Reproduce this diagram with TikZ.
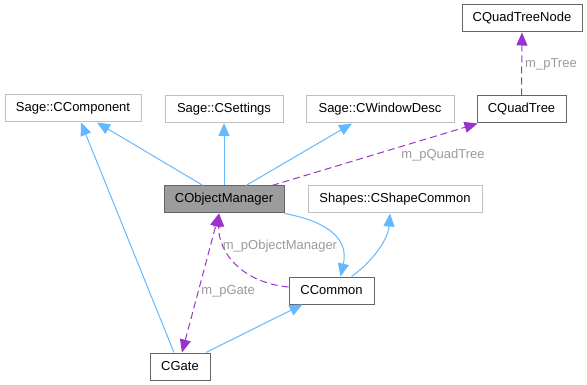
\documentclass[tikz,border=0pt]{standalone}
\usepackage{fontspec}
\setmainfont{Liberation Sans}
\usetikzlibrary{arrows.meta, positioning}

\definecolor{inhblue}{HTML}{63B8FF}
\definecolor{usepurple}{HTML}{9A32CD}
\definecolor{lblgrey}{HTML}{9A9A9A}
\definecolor{boxgrey}{HTML}{BFBFBF}
\definecolor{boxdark}{HTML}{666666}

\begin{document}
\begin{tikzpicture}[x=1pt, y=-1pt, font=\fontsize{13}{15}\selectfont,
    cls/.style={draw=boxdark, fill=white, line width=1pt, minimum height=27pt, inner sep=0pt},
    extcls/.style={cls, draw=boxgrey},
    tip/.style={-{Triangle[length=13pt, width=11pt]}},
    inherit/.style={draw=inhblue, line width=1pt, tip},
    uses/.style={draw=usepurple, line width=1pt, dash pattern=on 7pt off 4pt, tip},
    lbl/.style={text=lblgrey, inner sep=1pt}]
  \useasboundingbox (0,0) rectangle (587,385);

  % classes, placed at their centres
  \node[extcls, minimum width=136pt] at (73, 108.5) (comp) {Sage::CComponent};
  \node[extcls, minimum width=118pt] at (224, 109) (settings) {Sage::CSettings};
  \node[extcls, minimum width=148pt] at (380, 109.5) (wdesc) {Sage::CWindowDesc};
  \node[cls, minimum width=89pt] at (521.5, 109.5) (qtree) {CQuadTree};
  \node[cls, minimum width=120pt] at (522, 18.5) (qtnode) {CQuadTreeNode};
  \node[cls, fill=boxdark!65, minimum width=120pt] at (224, 199.5) (objmgr) {CObjectManager};
  \node[extcls, minimum width=174pt] at (395, 199.5) (shapecom) {Shapes::CShapeCommon};
  \node[cls, minimum width=85pt] at (331.5, 290.5) (common) {CCommon};
  \node[cls, minimum width=60pt] at (180, 366.5) (gate) {CGate};

  % inheritance
  \draw[inherit] ([xshift=-21pt]objmgr.north) -- ([xshift=24pt]comp.south);
  \draw[inherit] (objmgr.north) -- (settings.south);
  \draw[inherit] ([xshift=22pt]objmgr.north) -- ([xshift=-28pt]wdesc.south);
  \draw[inherit] ([xshift=-6pt]gate.north) -- ([xshift=8pt]comp.south);
  \draw[inherit] ([xshift=26pt]gate.north) -- ([xshift=-29pt]common.south);
  \draw[inherit] (objmgr.south east) .. controls (320,220) and (350,235) .. ([xshift=9pt]common.north);
  \draw[inherit] ([xshift=20pt]common.north) .. controls (372,262) and (388,240) .. ([xshift=-5pt]shapecom.south);

  % usage
  \draw[uses] ([xshift=48pt]objmgr.north) -- ([xshift=-44pt]qtree.south);
  \node[lbl] at (443, 155) (lbl-qtree) {m\_pQuadTree};
  \draw[uses] (qtree.north) -- (qtnode.south);
  \node[lbl] at (551, 64) (lbl-tree) {m\_pTree};
  \draw[uses] ([yshift=3.5pt]common.west) .. controls (245,283) and (218,255) .. ([xshift=-5pt]objmgr.south);
  \node[lbl] at (280, 246) (lbl-objmgr) {m\_pObjectManager};
  \draw[uses, {Triangle[length=13pt, width=11pt]}-{Triangle[length=13pt, width=11pt]}] ([xshift=2pt]gate.north) -- ([xshift=-5pt]objmgr.south);
  \node[lbl] at (228, 291) (lbl-gate) {m\_pGate};
\end{tikzpicture}
\end{document}
